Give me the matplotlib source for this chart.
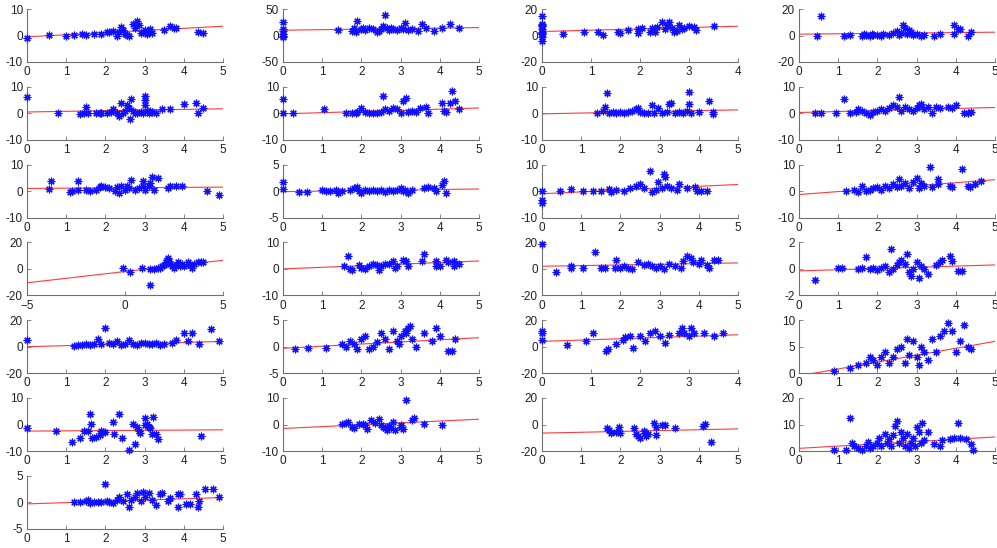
import matplotlib
matplotlib.use("Agg")
import matplotlib.pyplot as plt
import numpy as np

plt.rcParams['font.family'] = ['Liberation Sans', 'DejaVu Sans']

# ---- data per panel: scatter x/y, axis limits and fitted line (intercept, slope) ----
p01_x = [0, 0.55, 1.0, 1.2, 1.4, 1.5, 1.7, 1.9, 2.05, 2.1, 2.2, 2.3, 2.35, 2.4, 2.45, 2.5, 2.55, 2.6,
         2.7, 2.75, 2.8, 2.85, 2.9, 2.95, 3.0, 3.05, 3.1, 3.15, 3.2, 3.5, 3.65, 3.75, 3.8, 4.35, 4.5]
p01_y = [-0.8, 0.3, 0, 0.3, 0.5, 0.2, 0.7, 0.5, 1.2, 1.5, 1.8, 0, 1.5, 3.2, 2, 0.5, 0.3, 0,
         4.5, 3, 5.5, 4, 1, 1.5, 2, 0.5, 1.5, 2.5, 0.8, 2, 3.5, 3, 2.8, 1.2, 1]

p02_x = [0, 0, 0, 0, 0, 0, 1.4, 1.75, 1.8, 1.85, 1.9, 2.0, 2.05, 2.1, 2.2, 2.3, 2.4, 2.45, 2.5, 2.55,
         2.6, 2.65, 2.7, 2.75, 2.8, 2.9, 3.0, 3.05, 3.1, 3.2, 3.3, 3.45, 3.55, 3.65, 3.85, 4.05, 4.25, 4.5]
p02_y = [26, 13, 8, 3, -2, 0, 10, 8, 15, 6, 28, 12, 15, 10, 14, 12, 6, 8, 12, 18,
         38, 14, 10, 15, 12, 10, 14, 12, 24, 10, 12, 8, 21, 14, 8, 15, 21, 14]

p03_x = [0, 0, 0, 0, 0, 0, 0, 0, 0, 0, 0.42, 0.85, 1.15, 1.25, 1.55, 1.6, 1.75, 1.95, 1.95, 2.05,
         2.2, 2.25, 2.3, 2.35, 2.45, 2.5, 2.55, 2.6, 2.65, 2.7, 2.75, 2.8, 2.85, 2.9, 3.0, 3.1, 3.15, 3.5]
p03_y = [15, 9, 7, 5, 3, 1, -1, -4, 8, 2, 1.5, 2.5, 3, 0.5, 2.5, 2, 4, 5, 2, 5.5,
         2.5, 6, 3, 6.5, 10, 5, 8, 10.5, 6, 2.5, 3.5, 8, 5, 6, 7, 6.5, 4, 7]

p04_x = [0.45, 0.55, 1.15, 1.3, 1.6, 1.65, 1.7, 1.8, 1.85, 1.9, 2.0, 2.1, 2.15, 2.3, 2.4, 2.5, 2.55,
         2.6, 2.65, 2.7, 2.75, 2.8, 2.85, 2.9, 3.0, 3.1, 3.2, 3.45, 3.6, 3.95, 3.95, 4.05, 4.1, 4.3, 4.4]
p04_y = [0, 15, 0, 0.5, 0, 1, 0.5, 0, 1, 0.5, 0.3, 0, 1.5, 0.5, 2, 3.5, 0.5,
         2, 8, 6, 1, 4, 3, 0.5, 1.5, 0, 0.5, 0, 1.5, 1, 8, 5, 5, 0, 2.5]

p05_x = [0, 0.8, 1.35, 1.45, 1.5, 1.55, 1.75, 1.85, 1.9, 2.05, 2.2, 2.3, 2.35, 2.4, 2.5, 2.55, 2.6,
         2.62, 2.65, 2.7, 2.8, 2.9, 2.95, 3.0, 3.0, 3.02, 3.05, 3.1, 3.2, 3.3, 3.45, 3.65, 4.0, 4.3,
         4.35, 4.5, 2.15, 2.45, 2.75, 3.15]
p05_y = [6, 0, -0.3, 0, 2.2, 0, 0, 0.3, 0, 0, 1.5, 0, -1, 4, 1, 3, 2,
         -2.3, 5.5, 1, 0, 0.5, 0, 6.5, 3, 5, 1, 0, 0.5, 0.3, 1.5, 1.5, 3.5, 4,
         0, 2, 0.5, 0, 0.3, 0.8]

p06_x = [0, 0, 0.25, 1.05, 1.6, 1.75, 1.9, 2.0, 2.1, 2.3, 2.5, 2.55, 2.6, 2.8, 2.9, 3.05, 3.15, 3.2,
         3.3, 3.5, 3.65, 3.7, 4.05, 4.1, 4.15, 4.25, 4.3, 4.4, 4.5, 1.85, 2.2, 2.4, 2.7, 3.0, 3.4]
p06_y = [5.5, 0, 0, 1.5, 0, 0, 0.5, 2, 0.5, 0, 0.5, 6.5, 1.5, 2, 1.5, 4.5, 5.8, 0.5,
         1, 2, 2.5, 0, 4, 1, 0.5, 4, 8.5, 4.5, 1.8, 0, 0.3, 0, 1, 0.3, 0.5]

p07_x = [1.4, 1.55, 1.6, 1.65, 1.7, 1.8, 1.9, 2.0, 2.1, 2.2, 2.3, 2.4, 2.45, 2.5, 2.8, 2.85, 2.95,
         3.05, 3.2, 3.25, 3.3, 3.5, 3.6, 3.7, 3.75, 3.75, 3.8, 4.0, 4.25, 4.35, 4.35, 2.6, 2.7, 3.4]
p07_y = [0, 1, 2.5, 7.5, 0, 0.5, 0, 0.5, 0, 0.5, 1, 1.5, 2, 0.5, 3, 0, 2,
         0, 0.5, 3.5, 3.8, 0.5, 0, 1, 8, 3.5, 0, 0.5, 4.5, 0.5, -0.3, 0.3, 0, 0.2]

p08_x = [0.4, 0.55, 0.95, 1.15, 1.3, 1.45, 1.5, 1.6, 1.7, 1.8, 1.9, 2.0, 2.1, 2.2, 2.3, 2.4, 2.5,
         2.55, 2.6, 2.7, 2.8, 2.9, 3.0, 3.05, 3.1, 3.2, 3.3, 3.4, 3.5, 3.6, 3.8, 3.9, 4.0, 4.2, 4.3, 4.4]
p08_y = [0, 0, 0, 5.5, 0, 0.5, 1.5, 1, 0, -0.5, 0.5, 1, 1.5, 1, 2, 3, 2.5,
         6, 1, 2.5, 1.5, 1, 2, 3, 3.5, 1.5, 2.5, 0, 2.5, 2, 2.5, 2, 3, 0, 0, 0.5]

p09_x = [0.55, 0.62, 1.1, 1.15, 1.3, 1.3, 1.5, 1.6, 1.75, 1.85, 1.9, 2.0, 2.1, 2.25, 2.3, 2.35,
         2.4, 2.5, 2.55, 2.6, 2.65, 2.75, 2.85, 2.95, 2.95, 3.0, 3.1, 3.15, 3.2, 3.25, 3.35, 3.6,
         3.65, 3.8, 3.95, 4.6, 4.9]
p09_y = [0.8, 4, -0.3, 0, 4, 0.5, 0.5, 0, 0.5, 1.5, 2, 1.5, 1, 0, 1.5, -0.8,
         2, 0.5, 2, 1, 4.3, 0.5, 1, 4, 2, 0.5, 2, 3, 5.5, 0.5, 5, 1.2,
         2, 1.8, 1.8, 0, -1.5]

p10_x = [0, 0, 0.4, 0.6, 1.0, 1.1, 1.2, 1.35, 1.4, 1.5, 1.7, 1.8, 1.9, 1.95, 2.0, 2.1, 2.2, 2.3,
         2.4, 2.5, 2.6, 2.7, 2.8, 2.9, 3.0, 3.05, 3.1, 3.2, 3.3, 3.6, 3.7, 3.85, 3.9, 4.05, 4.1, 4.15]
p10_y = [1.8, 0.4, -0.1, -0.1, 0.3, 0, 0, 0.2, -0.3, 0, 0.2, 0.5, 0.8, 0, -0.3, 0.2, 0, 0.3,
         0, 0.2, -0.2, 0.3, 0, 0.2, 0.6, 0, 0.2, -0.3, 0.3, 0.5, 0.8, 0.5, 0, 1.2, 2, -0.4]

p11_x = [0, 0, 0, 0.45, 0.75, 1.05, 1.3, 1.5, 1.7, 1.75, 1.9, 2.1, 2.25, 2.4, 2.5, 2.6, 2.75,
         2.8, 2.9, 2.95, 3.05, 3.1, 3.15, 3.2, 3.3, 3.45, 3.5, 3.7, 3.9, 3.95, 4.05, 4.2]
p11_y = [0, -3.5, -4.5, 0, 0.8, 0, 0, 0, 0.8, -0.5, 0.5, 0, 1, 2, 2.5, 1, 7.5,
         -0.5, 0.5, 3.5, 1, 6.5, 5.5, 2, 1, 0.5, 2.5, 1, 1.5, 0, 0.2, 0]

p12_x = [1.2, 1.4, 1.5, 1.6, 1.7, 1.8, 1.9, 2.0, 2.1, 2.2, 2.3, 2.4, 2.5, 2.55, 2.6, 2.7, 2.8,
         2.9, 3.0, 3.05, 3.1, 3.2, 3.35, 3.4, 3.55, 3.55, 3.85, 3.9, 4.15, 4.3, 4.35, 4.5, 4.65]
p12_y = [0, 0.5, -0.5, 2, 0, 0.5, 1, 1.5, 0.5, 2, 1, 2.5, 1.5, 4.5, 2, 3, 1,
         3.5, 5, 1, 3, 2, 9, 1.5, 4.5, 2.5, 2, 1.5, 8.5, 2, 1.5, 2.5, 4]

p13_x = [-0.1, 0.25, 0.85, 1.3, 1.3, 1.5, 1.7, 1.8, 1.9, 2.0, 2.1, 2.15, 2.2, 2.25, 2.3, 2.4,
         2.5, 2.6, 2.7, 2.8, 2.9, 3.0, 3.2, 3.3, 3.4, 3.5, 3.7, 3.9, 4.0]
p13_y = [1, -2.5, 0.5, 0, -12, 0, 0.5, 1, 2, 3, 5, 7, 8, 6, 4, 2,
         1, 3, 5, 2.5, 4, 2, 5.5, 3, 1, 4, 5, 5, 5]

p14_x = [1.55, 1.65, 1.7, 1.75, 1.95, 2.0, 2.1, 2.2, 2.3, 2.4, 2.45, 2.5, 2.6, 2.7, 2.8, 2.85,
         2.9, 3.05, 3.15, 3.2, 3.55, 3.6, 3.9, 3.9, 4.0, 4.15, 4.2, 4.35, 4.35, 4.5]
p14_y = [1, 5, 0, -0.5, 1.5, 0.5, 0, 1, 2, 1.5, -0.5, 1, 2, 2, 3, 0.5,
         1, 3.5, 3, 1, 3, 5.5, 3, 1, 1, 3.5, 2.5, 3, 1, 2]

p15_x = [0, 0.35, 0.75, 0.75, 1.05, 1.35, 1.5, 1.6, 1.85, 1.9, 2.0, 2.1, 2.2, 2.3, 2.45, 2.6,
         2.7, 2.8, 2.9, 3.0, 3.1, 3.25, 3.4, 3.55, 3.6, 3.7, 3.8, 3.85, 4.0, 4.05, 4.2, 4.25, 4.4, 4.5]
p15_y = [19, -2, 2, 0.5, 0.5, 13, 0.5, 1, 1, 7, 1, 2, 1, 0, 5.5, 3,
         4, 2, 1, 2, 0, 4, 2, 1, 6, 10, 8, 5, 4, 7, 3, 1, 7, 7]

p16_x = [0.4, 1.0, 1.1, 1.5, 1.6, 1.7, 1.8, 1.9, 2.0, 2.1, 2.2, 2.3, 2.35, 2.4, 2.5, 2.55, 2.6,
         2.7, 2.75, 2.8, 2.85, 2.9, 3.0, 3.05, 3.1, 3.2, 3.3, 3.5, 3.6, 3.65, 3.85, 3.9, 4.05, 4.15]
p16_y = [-0.8, 0.1, 0.05, 0, 0.05, 0.9, 0, 0.1, -0.1, 0.1, 0.2, -0.2, 1.5, 0, 0.3, 0.5, 0.7,
         0.4, 1.1, -0.2, -0.5, 0, 0.5, -0.7, 0.2, 0, -0.4, 0.3, 0.5, 0.7, 1.0, 0.6, -0.15, -0.15]

p17_x = [0, 1.2, 1.3, 1.4, 1.5, 1.6, 1.7, 1.8, 1.9, 2.0, 2.1, 2.2, 2.3, 2.4, 2.5, 2.6, 2.7, 2.8,
         2.9, 3.0, 3.1, 3.2, 3.3, 3.4, 3.5, 3.7, 3.8, 4.0, 4.1, 4.2, 4.4, 4.7, 4.9]
p17_y = [5, 0.5, 1, 1, 2, 1, 2, 6, 2, 14, 3, 2, 4, 1, 2, 5, 2, 1,
         3, 3, 2, 2, 3, 1, 2, 3, 5, 10, 4, 10, 2, 13, 4]

p18_x = [0.3, 0.65, 1.1, 1.5, 1.6, 1.7, 1.8, 1.9, 2.0, 2.1, 2.2, 2.3, 2.4, 2.5, 2.6, 2.7, 2.8,
         2.9, 2.95, 3.0, 3.1, 3.15, 3.2, 3.25, 3.3, 3.4, 3.6, 3.8, 3.9, 4.0, 4.2, 4.3, 4.4]
p18_y = [-0.5, -0.3, -0.2, 0.5, 0, 1, 0.5, -0.5, 1.5, 2, -0.5, 0, 0.8, 2.5, 1.5, -0.5, 3,
         1, 0.5, 2, 3, 2.5, 3.5, 4, 1.5, 0, 2.5, 1, 3.5, 2, -0.8, -0.8, 1.5]

p19_x = [0, 0, 0, 0.5, 0.9, 1.05, 1.3, 1.35, 1.5, 1.65, 1.7, 1.8, 1.85, 2.0, 2.1, 2.2, 2.3,
         2.4, 2.5, 2.6, 2.8, 2.85, 2.9, 3.0, 3.05, 3.1, 3.3, 3.5, 3.7]
p19_y = [12, 10, 5, 1, 4, 10, -3, -2, 2, 5, 7, 8, -1, 8, 4, 10, 12,
         8, 3, 9, 10, 14, 10, 8, 14, 10, 10, 8, 10]

p20_x = [0.9, 1.3, 1.5, 1.7, 1.8, 1.9, 2.0, 2.1, 2.2, 2.3, 2.4, 2.5, 2.6, 2.7, 2.75, 2.8, 2.9,
         3.0, 3.05, 3.1, 3.2, 3.3, 3.4, 3.5, 3.6, 3.7, 3.8, 3.9, 4.0, 4.1, 4.2, 4.3, 4.4]
p20_y = [0.5, 1, 1.5, 2, 3, 2.5, 1.5, 3, 4, 2, 3, 4.5, 5, 2, 6.5, 3.5, 6,
         3, 1.5, 5, 4, 2.5, 6.5, 4, 7, 8, 9.5, 8, 4, 6, 9, 5, 4.5]

p21_x = [0, 0.75, 1.15, 1.35, 1.45, 1.55, 1.6, 1.62, 1.65, 1.75, 1.85, 1.9, 1.95, 2.0, 2.2,
         2.22, 2.35, 2.42, 2.6, 2.7, 2.75, 2.8, 2.85, 2.87, 3.0, 3.02, 3.05, 3.1, 3.15, 3.2,
         3.22, 3.3, 3.35, 4.45]
p21_y = [-1.5, -2.3, -6.5, -5, -2.5, -2.5, 4, 0.2, -5, -4.8, -4, -2.5, -3, -3, 1,
         -3.5, 4, -5.2, -9.8, 0.3, -7.5, -0.8, -2.5, -3.2, 2.5, -0.3, 0.2, -0.8, -1.5, -3.5,
         3, -3.5, -5.5, -4.5]

p22_x = [1.5, 1.6, 1.65, 1.75, 1.8, 1.95, 2.05, 2.1, 2.15, 2.25, 2.35, 2.45, 2.5, 2.55, 2.6,
         2.65, 2.7, 2.75, 2.8, 2.85, 3.0, 3.02, 3.05, 3.15, 3.3, 3.35, 3.6, 4.05]
p22_y = [0.2, 0.5, 1, -0.8, -1.5, 0.3, 0.3, 0, -1.8, 1.8, 0.5, 2, -0.3, -1, -1.5,
         -2.2, -0.5, -1.5, 1, -2, 0, -1, -1.8, 9.3, 1.8, 2.3, 0.2, 0]

p23_x = [1.65, 1.7, 1.75, 1.9, 1.97, 2.0, 2.35, 2.4, 2.45, 2.5, 2.6, 2.62, 2.65, 2.7, 2.85,
         2.9, 2.92, 3.05, 3.15, 3.4, 4.1, 4.15, 4.3]
p23_y = [-3, -4, -6.5, -5.5, -2, -6.5, -3, -7.5, -9, -10, -5, -6.5, -8.5, -7, 1,
         -2, -8, 0, 0, -2.5, -1.5, 0.5, -13]

p24_x = [0.9, 1.2, 1.3, 1.35, 1.4, 1.5, 1.6, 1.7, 1.75, 1.8, 1.9, 2.0, 2.05, 2.1, 2.2, 2.25,
         2.3, 2.35, 2.4, 2.45, 2.5, 2.55, 2.6, 2.65, 2.7, 2.75, 2.8, 2.85, 2.9, 2.95, 3.0, 3.05,
         3.1, 3.15, 3.2, 3.3, 3.45, 3.6, 3.65, 3.85, 3.95, 4.05, 4.1, 4.25, 4.4, 4.45]
p24_y = [0.3, 0.5, 12.5, 3, 2, 1, 0.5, 2, 3.5, 1, 2, 3, 5, 2, 6.5, 3,
         4.5, 2, 6, 9.5, 11.5, 3, 7, 5, 2, 6.5, 1, 3, 5, 2, 9, 7,
         3, 10.5, 4, 7, 2.5, 2, 4, 4.5, 5, 10.5, 5, 4.5, 2.5, 0.5]

p25_x = [1.2, 1.35, 1.5, 1.55, 1.6, 1.7, 1.8, 1.9, 2.0, 2.05, 2.1, 2.2, 2.3, 2.35, 2.45, 2.55,
         2.6, 2.65, 2.75, 2.8, 2.9, 2.95, 3.0, 3.1, 3.2, 3.3, 3.4, 3.45, 3.6, 3.65, 3.85, 3.85,
         3.9, 4.05, 4.15, 4.3, 4.35, 4.4, 4.55, 4.75, 4.9]
p25_y = [0, 0, 0.2, 0.5, -0.2, 0, 0.1, 0, 3.5, 0.2, 0, -0.2, 0.5, 1, 0.3, 1.5,
         -0.8, 0.5, 1, 1.8, 0.2, 2, 1, 1.8, 0.5, -0.5, 1.5, 1.8, 0.3, 0.8, 1.5, -0.8,
         1.5, -0.3, -0.3, 1.5, -0.8, 0.3, 2.5, 2.5, 1]

xs = [p01_x, p02_x, p03_x, p04_x, p05_x, p06_x, p07_x, p08_x, p09_x, p10_x, p11_x, p12_x, p13_x,
      p14_x, p15_x, p16_x, p17_x, p18_x, p19_x, p20_x, p21_x, p22_x, p23_x, p24_x, p25_x]
ys = [p01_y, p02_y, p03_y, p04_y, p05_y, p06_y, p07_y, p08_y, p09_y, p10_y, p11_y, p12_y, p13_y,
      p14_y, p15_y, p16_y, p17_y, p18_y, p19_y, p20_y, p21_y, p22_y, p23_y, p24_y, p25_y]

x_limits = [(0, 5), (0, 5), (0, 4), (0, 5),
            (0, 5), (0, 5), (0, 5), (0, 5),
            (0, 5), (0, 5), (0, 5), (0, 5),
            (-5, 5), (0, 5), (0, 5), (0, 5),
            (0, 5), (0, 5), (0, 4), (0, 5),
            (0, 5), (0, 5), (0, 5), (0, 5),
            (0, 5)]
y_limits = [(-10, 10), (-50, 50), (-20, 20), (-20, 20),
            (-10, 10), (-10, 10), (-10, 10), (-10, 10),
            (-10, 10), (-5, 5), (-10, 10), (-10, 10),
            (-20, 20), (-10, 10), (-20, 20), (-2, 2),
            (-20, 20), (-5, 5), (-20, 20), (0, 10),
            (-10, 10), (-10, 10), (-20, 20), (0, 20),
            (-5, 5)]
fit_intercept = [-0.5, 10, 3, 1, 0.5, -0.2, -0.2, 0.3, 1.0, -0.1, -1.0, -1.3, -2.0,
                 0.0, 2.0, -0.15, 0.0, -0.3, 4.0, -0.5, -2.5, -1.5, -6.5, 1.0, -0.3]
fit_slope = [0.8, 1.0, 1.0, 0.3, 0.24, 0.44, 0.3, 0.38, 0.1, 0.1, 0.7, 1.12, 1.7,
             0.6, 0.5, 0.09, 0.8, 0.4, 1.25, 1.3, 0.1, 0.7, 0.64, 0.86, 0.24]

# ---- layout (pixel geometry of the 7x4 grid) ----
W, H = 997, 548
fig = plt.figure(figsize=(W / 100, H / 100), dpi=100)
col_left = [27, 283, 542, 799]
ax_w = 196
row_top = [9, 86.8, 164.6, 242.4, 320.2, 398, 475.8]
ax_h = 53

axis_grey = '#707070'
asterisk = (8, 2, 0)

for k in range(25):
    r, c = divmod(k, 4)
    left = col_left[c] / W
    bottom = 1 - (row_top[r] + ax_h) / H
    ax = fig.add_axes([left, bottom, ax_w / W, ax_h / H])

    x0, x1 = x_limits[k]
    y0, y1 = y_limits[k]
    lx = np.array([x0, x1])
    ax.plot(lx, fit_intercept[k] + fit_slope[k] * lx, color='#ff3a3a', lw=0.8, zorder=2)
    ax.plot(xs[k], ys[k], linestyle='none', marker=asterisk, color='#1010ff',
            markersize=5.5, markeredgewidth=0.85, zorder=3, clip_on=False)

    ax.set_xlim(x0, x1)
    ax.set_ylim(y0, y1)
    if x0 == -5:
        ax.set_xticks([-5, 0, 5])
    else:
        ax.set_xticks(np.arange(x0, x1 + 1))
    ax.set_yticks([y0, (y0 + y1) / 2, y1])
    ax.set_yticklabels([f"{v:g}" for v in (y0, (y0 + y1) / 2, y1)])

    for side in ('top', 'right'):
        ax.spines[side].set_visible(False)
    for side in ('left', 'bottom'):
        ax.spines[side].set_color(axis_grey)
        ax.spines[side].set_linewidth(0.8)
    ax.tick_params(direction='in', length=3, width=0.6, color=axis_grey,
                   labelsize=8.5, labelcolor='#222222', pad=3)

fig.savefig('out.png', dpi=100)
